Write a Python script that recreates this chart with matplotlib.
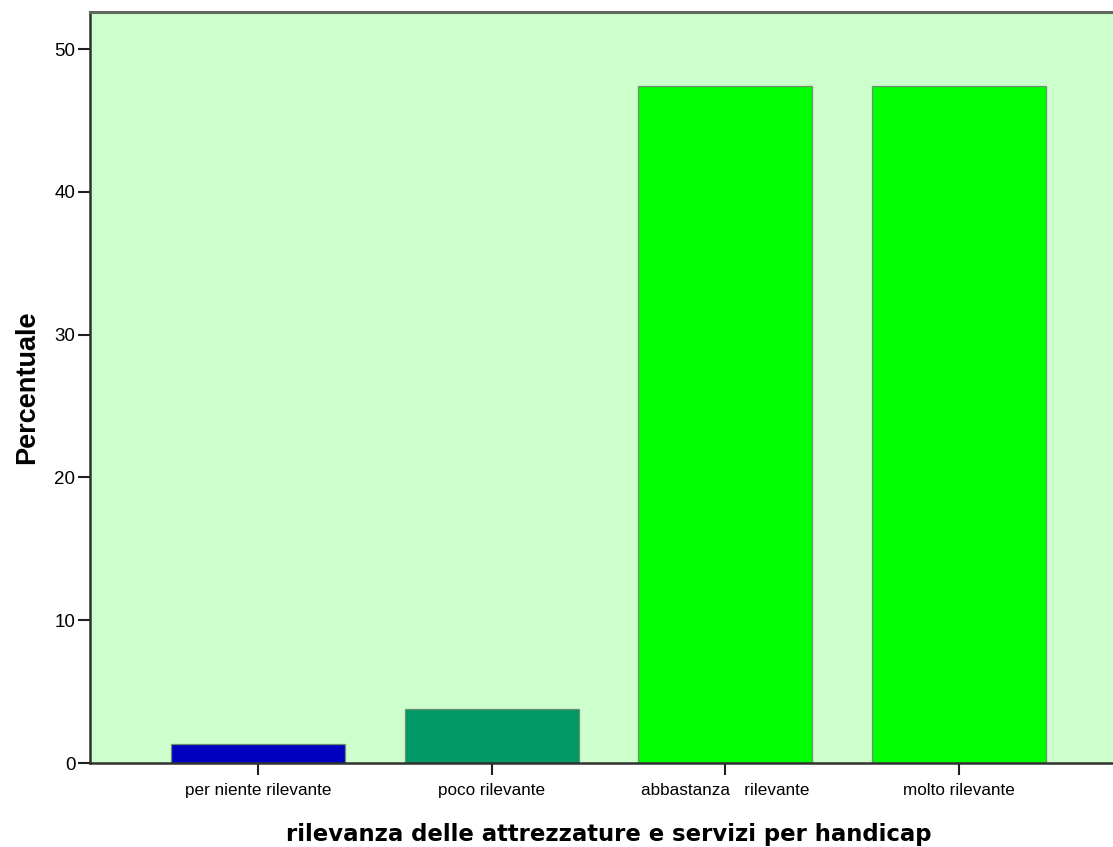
import matplotlib
matplotlib.use('Agg')
import matplotlib.pyplot as plt

categories = ['per niente rilevante', 'poco rilevante', 'abbastanza   rilevante', 'molto rilevante']
percent = [1.3, 3.8, 47.4, 47.4]
bar_colors = ['#0000C0', '#009966', '#00FF00', '#00FF00']
y_ticks = [0, 10, 20, 30, 40, 50]

fig = plt.figure(figsize=(11.13, 8.47), dpi=100)
ax = fig.add_axes([90 / 1113, 1 - 763 / 847, 1037 / 1113, 751 / 847])
ax.set_facecolor('#CCFFCC')

x = range(len(categories))
ax.bar(x, percent, width=0.745, color=bar_colors, edgecolor='#6f8f6f', linewidth=0.9, zorder=2)

ax.set_xlim(-0.72, 3.72)
ax.set_ylim(0, 52.6)
ax.set_yticks(y_ticks)
ax.set_xticks(list(x))
ax.set_xticklabels(categories, fontfamily='Liberation Sans', fontsize=12.3)
ax.set_yticklabels([str(v) for v in y_ticks], fontfamily='Liberation Sans', fontsize=13.5)
ax.tick_params(axis='both', direction='out', length=8.5, width=1.5, color='#202020', pad=2)
ax.tick_params(axis='x', pad=6)

for side in ['left', 'bottom']:
    ax.spines[side].set_color('#303030')
    ax.spines[side].set_linewidth(1.8)
ax.spines['top'].set_color('#606860')
ax.spines['top'].set_linewidth(2.2)
ax.spines['right'].set_visible(False)

ax.set_ylabel('Percentuale', fontfamily='Liberation Sans', fontweight='bold', fontsize=19.5, labelpad=10)
ax.set_xlabel('rilevanza delle attrezzature e servizi per handicap', fontfamily='DejaVu Sans',
              fontweight='bold', fontsize=16.4, labelpad=18)

fig.savefig('out.png', dpi=100)
